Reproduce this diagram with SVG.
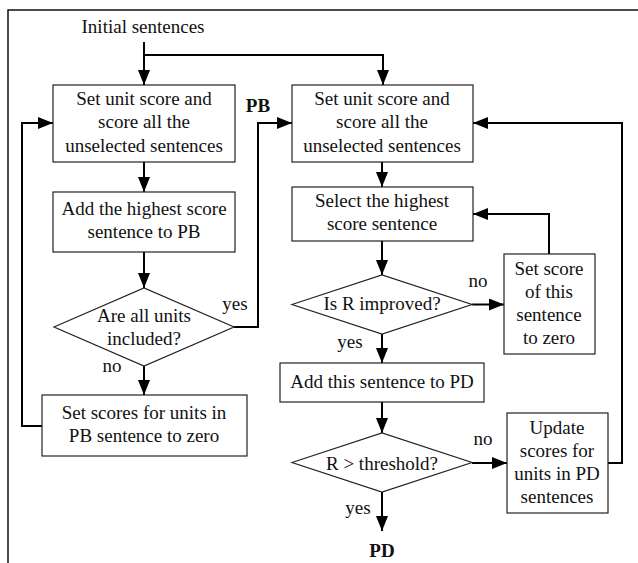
<svg xmlns="http://www.w3.org/2000/svg" width="638" height="563" viewBox="0 0 638 563">
<defs>
<marker id="ah" markerUnits="userSpaceOnUse" markerWidth="15" markerHeight="12" refX="15" refY="6" orient="auto">
<path d="M0,0 L15,6 L0,12 z" fill="#000"/>
</marker>
<style>
.box{fill:#fff;stroke:#222;stroke-width:1.2}
.c2{fill:none;stroke:#000;stroke-width:2;marker-end:url(#ah)}
.frame{fill:none;stroke:#111;stroke-width:1.5}
</style>
</defs>
<rect width="638" height="563" fill="#fff"/>
<path class="frame" d="M8,563 V10 H638"/>
<g font-family="'Liberation Serif', 'Times New Roman', Times, serif" font-size="19" fill="#111" text-anchor="middle">
<text x="143" y="33">Initial sentences</text>
<text font-weight="bold" x="258" y="112">PB</text>
<text font-weight="bold" x="382" y="557">PD</text>
<g id="connectors">
<path class="c2" d="M144,42 V85"/>
<path class="c2" d="M144,55 H383 V85"/>
<path class="c2" d="M144,162 V192"/>
<path class="c2" d="M144,252 V288"/>
<path class="c2" d="M144,366 V395"/>
<path class="c2" d="M42,426 H22 V123 H53"/>
<path class="c2" d="M234,327 H258 V123 H292"/>
<path class="c2" d="M382,162 V187"/>
<path class="c2" d="M382,241 V275"/>
<path class="c2" d="M472,304.5 H504"/>
<path class="c2" d="M549,254 V214 H473"/>
<path class="c2" d="M382,334 V363"/>
<path class="c2" d="M382,402 V433"/>
<path class="c2" d="M472,463 H507"/>
<path class="c2" d="M608,463 H622 V123 H473"/>
<path class="c2" d="M382,492 V531"/>
<text x="235" y="310">yes</text>
<text x="112" y="372">no</text>
<text x="478" y="287">no</text>
<text x="350" y="348">yes</text>
<text x="483" y="445">no</text>
<text x="358" y="514">yes</text>
</g>
<g id="n1">
<rect class="box" x="53" y="85" width="182" height="77"/>
<text x="144" y="105">Set unit score and</text>
<text x="144" y="128">score all the</text>
<text x="144" y="152">unselected sentences</text>
</g>
<g id="n2">
<rect class="box" x="53" y="192" width="182" height="60"/>
<text x="144" y="215">Add the highest score</text>
<text x="144" y="238">sentence to PB</text>
</g>
<g id="n3">
<path class="box" d="M54,327 L144,288 L234,327 L144,366 z"/>
<text x="144" y="322">Are all units</text>
<text x="144" y="345">included?</text>
</g>
<g id="n4">
<rect class="box" x="42" y="395" width="205" height="61"/>
<text x="144" y="419">Set scores for units in</text>
<text x="144" y="442">PB sentence to zero</text>
</g>
<g id="n5">
<rect class="box" x="292" y="85" width="181" height="77"/>
<text x="382" y="105">Set unit score and</text>
<text x="382" y="128">score all the</text>
<text x="382" y="152">unselected sentences</text>
</g>
<g id="n6">
<rect class="box" x="292" y="187" width="181" height="54"/>
<text x="382" y="207">Select the highest</text>
<text x="382" y="230">score sentence</text>
</g>
<g id="n7">
<path class="box" d="M292,304.5 L382,275 L472,304.5 L382,334 z"/>
<text x="382" y="310">Is R improved?</text>
</g>
<g id="n8">
<rect class="box" x="504" y="254" width="91" height="100"/>
<text x="549" y="275">Set score</text>
<text x="549" y="298">of this</text>
<text x="549" y="321">sentence</text>
<text x="549" y="344">to zero</text>
</g>
<g id="n9">
<rect class="box" x="280" y="363" width="204" height="39"/>
<text x="382" y="388">Add this sentence to PD</text>
</g>
<g id="n10">
<path class="box" d="M292,462.5 L382,433 L472,462.5 L382,492 z"/>
<text x="382" y="470">R &gt; threshold?</text>
</g>
<g id="n11">
<rect class="box" x="507" y="413" width="101" height="100"/>
<text x="557" y="434">Update</text>
<text x="557" y="457">scores for</text>
<text x="557" y="480">units in PD</text>
<text x="557" y="503">sentences</text>
</g>
</g>
</svg>
